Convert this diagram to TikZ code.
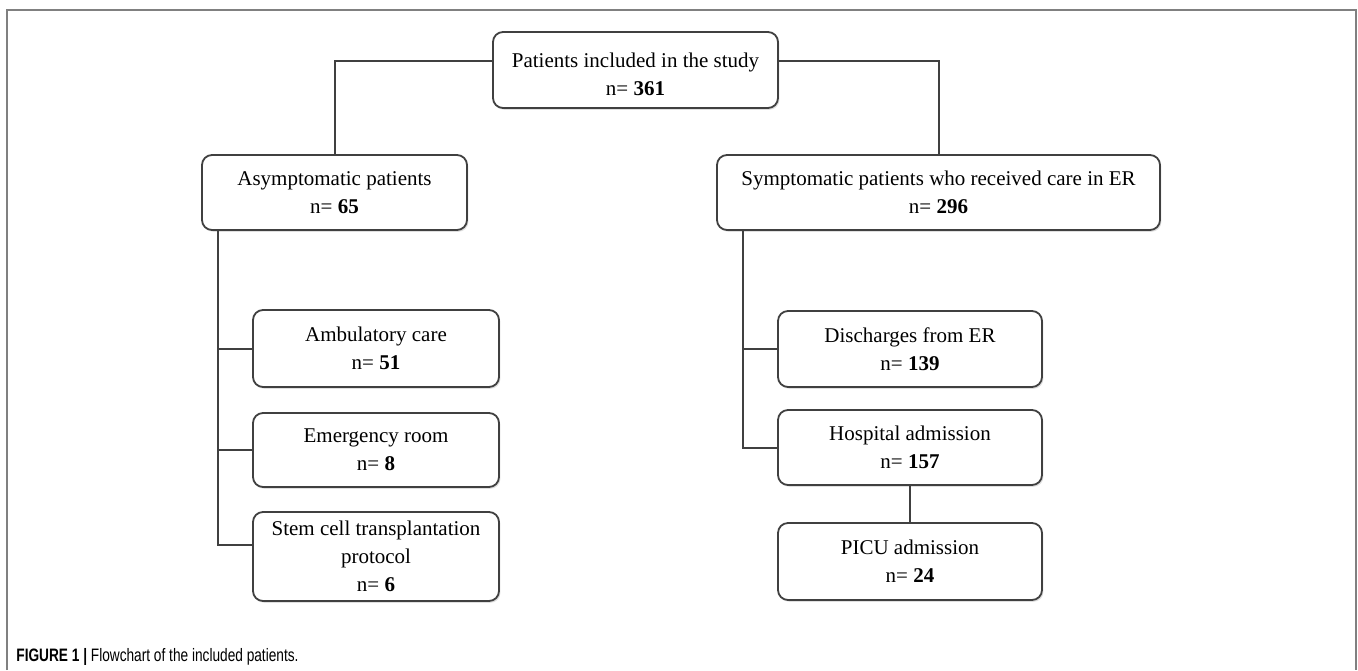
\documentclass[tikz,border=0pt]{standalone}
\usepackage{fontspec}
\setmainfont{Liberation Serif}
\newfontfamily\capfont[FakeStretch=0.76]{Liberation Sans}
\usetikzlibrary{shadows}
\definecolor{linegray}{gray}{0.25}
\definecolor{framegray}{gray}{0.5}

\begin{document}
\begin{tikzpicture}[x=0.5pt, y=-0.5pt,
  box/.style={draw=linegray, line width=0.9pt, rounded corners=5pt, fill=white,
    drop shadow={shadow xshift=0.7pt, shadow yshift=-0.9pt, opacity=0.25},
    align=center, inner sep=0pt, font=\fontsize{10.5}{14}\selectfont},
  link/.style={draw=linegray, line width=1pt}]
\useasboundingbox (0,0) rectangle (1358,670);

% =====================
% CORNICE
% =====================
\draw[framegray, line width=1pt] (7,670) -- (7,10) -- (1356,10) -- (1356,670);

% =====================
% BOX
% =====================
\node[box, minimum width=142.5pt, minimum height=38pt] (study) at (635.5,70)
  {\rule{0pt}{12pt}Patients included in the study\\ n= \textbf{361}};
\node[box, minimum width=132.5pt, minimum height=37.5pt] (asym) at (334.5,192.5)
  {Asymptomatic patients\\ n= \textbf{65}};
\node[box, minimum width=221.5pt, minimum height=37.5pt] (sym) at (938.5,192.5)
  {Symptomatic patients who received care in ER\\ n= \textbf{296}};

\node[box, minimum width=123pt, minimum height=38.5pt] (amb) at (376,348.5)
  {Ambulatory care\\ n= \textbf{51}};
\node[box, minimum width=123pt, minimum height=37pt] (emer) at (376,450)
  {Emergency room\\ n= \textbf{8}};
\node[box, minimum width=123pt, minimum height=44.5pt] (stem) at (376,556.5)
  {Stem cell transplantation\\ protocol\\ n= \textbf{6}};

\node[box, minimum width=132pt, minimum height=38pt] (disch) at (910,349)
  {Discharges from ER\\ n= \textbf{139}};
\node[box, minimum width=132pt, minimum height=37.5pt] (hosp) at (910,447.5)
  {Hospital admission\\ n= \textbf{157}};
\node[box, minimum width=132pt, minimum height=38.5pt] (picu) at (910,561.5)
  {PICU admission\\ n= \textbf{24}};

% =====================
% COLLEGAMENTI
% =====================
\coordinate (lx) at (218,0);
\coordinate (rx) at (743,0);

\draw[link] ([yshift=4.5pt]study.west) -| (asym.north);
\draw[link] ([yshift=4.5pt]study.east) -| (sym.north);

\draw[link] (asym.south -| lx) |- ([yshift=5.75pt]stem.west);
\draw[link] (asym.south -| lx) |- (amb.west);
\draw[link] (asym.south -| lx) |- (emer.west);

\draw[link] (sym.south -| rx) |- (hosp.west);
\draw[link] (sym.south -| rx) |- (disch.west);
\draw[link] (hosp.south) -- (picu.north);

% =====================
% DIDASCALIA
% =====================
\node[anchor=west, inner sep=0pt, font=\capfont\fontsize{9}{11}\selectfont] (caption) at (16,657)
  {\textbf{FIGURE 1 |} Flowchart of the included patients.};

\end{tikzpicture}
\end{document}
